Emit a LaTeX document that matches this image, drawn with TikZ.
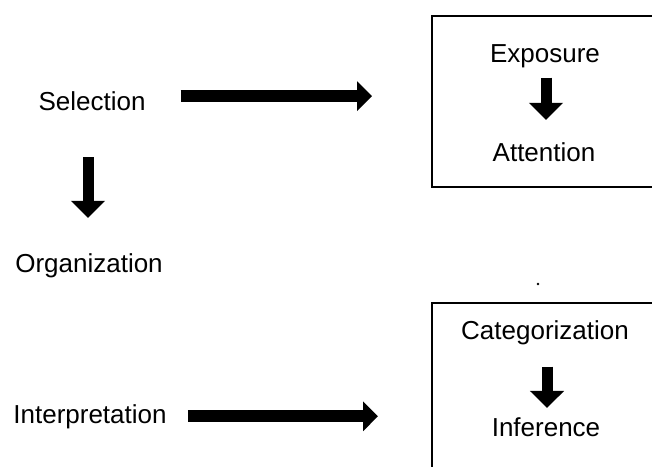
\documentclass[tikz,border=0pt]{standalone}
\usepackage{fontspec}
\setmainfont{Liberation Sans}
\usetikzlibrary{arrows.meta}

\begin{document}
\begin{tikzpicture}[x=1pt,y=-1pt,
  word/.style={font=\fontsize{26}{30}\selectfont, inner sep=0pt, anchor=base},
  frame/.style={draw, line width=1.5pt, inner sep=0pt, anchor=north west, minimum width=300pt},
  harrow/.style={line width=12pt, -{Triangle[length=15pt,width=29pt]}},
  varrow/.style={line width=11pt, -{Triangle[length=17pt,width=33pt]}}]
\useasboundingbox (0,0) rectangle (652,466);
\clip (0,0) rectangle (652,466);

\node[frame, minimum height=171pt] (topbox) at (431,15) {};
\node[frame, minimum height=250pt] (botbox) at (431,302) {};

\node[word] (sel) at (92,110) {Selection};
\node[word] (org) at (89,272) {Organization};
\node[word] (int) at (90,423) {Interpretation};
\node[word] (exp) at (545,62) {Exposure};
\node[word] (att) at (544,161) {Attention};
\node[word] (cat) at (545,339) {Categorization};
\node[word] (inf) at (546,436) {Inference};

\draw[harrow, shorten <=35pt, shorten >=59pt] ([yshift=4.5pt]sel.east) -- ([yshift=4.5pt]sel.east -| topbox.west);
\draw[harrow, shorten <=21pt, shorten >=53pt] (int.east) -- (int.east -| botbox.west);
\draw[varrow, shorten <=47pt, shorten >=35pt] ([xshift=-4pt]sel.south) -- ([xshift=-1pt]org.north);
\draw[varrow, shorten <=10pt, shorten >=22pt] ([xshift=1pt]exp.south) -- ([xshift=2pt]att.north);
\draw[varrow, shorten <=22pt, shorten >=9pt] ([xshift=2pt]cat.south) -- ([xshift=1pt]inf.north);

\fill (538,284) circle (1.3pt);
\end{tikzpicture}
\end{document}
